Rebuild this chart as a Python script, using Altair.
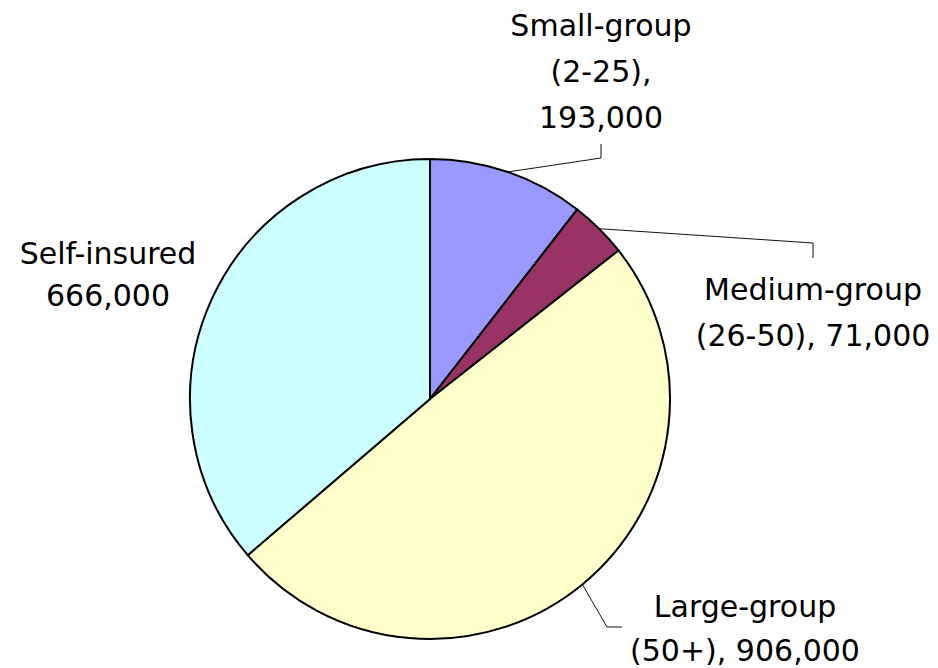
import math
import altair as alt
import pandas as pd

# ---- data ----
categories = ["Small-group (2-25)", "Medium-group (26-50)", "Large-group (50+)", "Self-insured"]
values = [193000, 71000, 906000, 666000]
colors = ["#9999FF", "#993366", "#FFFFCC", "#CCFFFF"]
label_lines = [
    ["Small-group", "(2-25),", "193,000"],
    ["Medium-group", "(26-50), 71,000"],
    ["Large-group", "(50+), 906,000"],
    ["Self-insured", "666,000"],
]

# ---- layout ----
W, H = 938, 668
CX, CY, R = 430, 399, 240
LINE_H = 45
# label anchor (center x, baseline of first line), line spacing
label_anchor = [(601, 36, 46), (813, 300, 46), (745, 617, 44), (108, 264, 42)]
# leader elbows (after the start point on the rim); None = no leader
leader_elbows = [
    [(601, 158), (601, 144)],
    [(813, 243), (813, 258)],
    [(607, 627), (622, 627)],
    None,
]

pie_df = pd.DataFrame({"category": categories, "value": values, "order": list(range(len(values)))})

total = float(sum(values))
leader_rows = []
cum = 0.0
for i, (cat, v) in enumerate(zip(categories, values)):
    mid = (cum + v / 2.0) / total * 2 * math.pi
    cum += v
    if leader_elbows[i] is None:
        continue
    sx = CX + R * math.sin(mid)
    sy = CY - R * math.cos(mid)
    pts = [(sx, sy)] + leader_elbows[i]
    for j, (px, py) in enumerate(pts):
        leader_rows.append({"cat": cat, "idx": j, "x": px, "y": py})
leader_df = pd.DataFrame(leader_rows)

text_rows = []
for lines, (ax, ay, lh) in zip(label_lines, label_anchor):
    for k, t in enumerate(lines):
        text_rows.append({"text": t, "x": ax, "y": ay + k * lh})
text_df = pd.DataFrame(text_rows)

pie = alt.Chart(pie_df).mark_arc(radius=R, stroke="black", strokeWidth=2).encode(
    theta=alt.Theta("value:Q", stack=True),
    color=alt.Color("category:N", scale=alt.Scale(domain=categories, range=colors), legend=None),
    order=alt.Order("order:Q"),
    x=alt.value(CX),
    y=alt.value(CY),
)

leaders = alt.Chart(leader_df).mark_line(color="#111111", strokeWidth=1).encode(
    x=alt.X("x:Q", scale=None, axis=None),
    y=alt.Y("y:Q", scale=None, axis=None),
    detail="cat:N",
    order="idx:Q",
)

labels = alt.Chart(text_df).mark_text(
    font="DejaVu Sans", fontSize=30, align="center", baseline="alphabetic", color="black"
).encode(
    x=alt.X("x:Q", scale=None, axis=None),
    y=alt.Y("y:Q", scale=None, axis=None),
    text="text:N",
)

chart = alt.layer(pie, leaders, labels).properties(
    width=W, height=H, autosize=alt.AutoSizeParams(type="none"), padding=0, background="white"
).configure_view(stroke=None)

chart.save("out.html", embed_options={"renderer": "svg", "actions": False})
